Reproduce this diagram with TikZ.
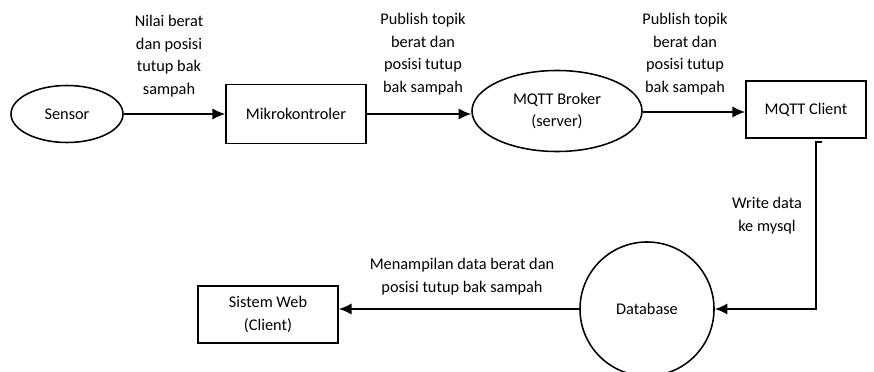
\documentclass[tikz,border=0pt]{standalone}
\usepackage{fontspec}
\setmainfont{Carlito}
\usetikzlibrary{shapes.geometric,arrows.meta}

\begin{document}
\begin{tikzpicture}[x=0.025cm,y=-0.025cm,
	font=\fontsize{11.6}{16}\selectfont,
	blok/.style={draw,line width=1.2pt,rectangle,inner sep=0pt},
	oval/.style={draw,line width=1.1pt,ellipse,inner sep=0pt},
	alir/.style={line width=1.2pt,-{Latex[length=9pt,width=8pt]}},
	ket/.style={align=center,inner sep=0pt}]
	\useasboundingbox (0,0) rectangle (874,372);
	% proses
	\node[oval,minimum width=2.8cm,minimum height=1.425cm] (sensor) at (67,114) {Sensor};
	\node[blok,minimum width=3.5cm,minimum height=1.475cm] (mikro) at (296,114) {Mikrokontroler};
	\node[oval,minimum width=4.25cm,minimum height=2.025cm,align=center] (broker) at (557,111) {MQTT Broker\\(server)};
	\node[blok,minimum width=3cm,minimum height=1.425cm] (client) at (806,109.5) {MQTT Client};
	\node[draw,line width=1.1pt,circle,minimum size=3.35cm,inner sep=0pt] (db) at (647,309) {Database};
	\node[blok,minimum width=3.5cm,minimum height=1.425cm,align=center] (web) at (268,314.5) {Sistem Web\\(Client)};
	\coordinate (turun) at (816,142);
	% aliran data
	\draw[alir] (sensor) -- (mikro);
	\draw[alir] (mikro) -- (mikro -| broker.west);
	\draw[alir] (broker.east |- 0,112) -- (client.west |- 0,112);
	\draw[alir] ([xshift=4]turun) -- (turun) |- (db.east);
	\draw[alir] (db) -- (db -| web.east);
	% keterangan
	\node[ket] (k1) at (169,56) {Nilai berat\\dan posisi\\tutup bak\\sampah};
	\node[ket] (k2) at (423,54) {Publish topik\\berat dan\\posisi tutup\\bak sampah};
	\node[ket] (k3) at (685,54) {Publish topik\\berat dan\\posisi tutup\\bak sampah};
	\node[ket] (k4) at (767,215.5) {Write data\\ke mysql};
	\node[ket] (k5) at (462,276.5) {Menampilan data berat dan\\posisi tutup bak sampah};
\end{tikzpicture}
\end{document}
